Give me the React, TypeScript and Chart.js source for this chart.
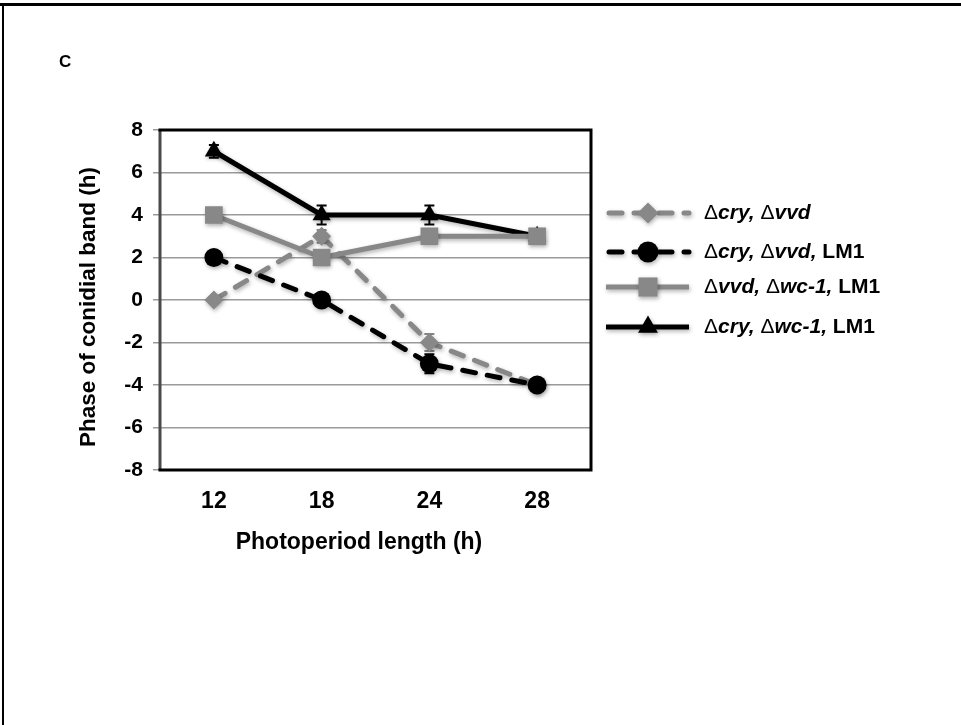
import React, { useEffect, useRef } from 'react';
import { Chart, registerables } from 'chart.js';
Chart.register(...registerables);

// ---- data ----
const categories = ['12', '18', '24', '28'];
const cryVvd = [0, 3, -2, -4];
const cryVvdErr = [0, 0.3, 0.4, 0];
const cryVvdLm1 = [2, 0, -3, -4];
const cryVvdLm1Err = [0, 0, 0.45, 0];
const vvdWc1Lm1 = [4, 2, 3, 3];
const vvdWc1Lm1Err = [0, 0, 0, 0];
const cryWc1Lm1 = [7, 4, 4, 3];
const cryWc1Lm1Err = [0.3, 0.45, 0.45, 0];
const yMin = -8;
const yMax = 8;
const yStep = 2;
const xTitle = 'Photoperiod length (h)';
const yTitle = 'Phase of conidial band (h)';
const panelLabel = 'C';
// legend label parts: [text, style] n = normal, i = bold italic, b = bold
const legendCryVvd: [string, string][] = [['Δ', 'n'], ['cry, ', 'i'], ['Δ', 'n'], ['vvd', 'i']];
const legendCryVvdLm1: [string, string][] = [['Δ', 'n'], ['cry, ', 'i'], ['Δ', 'n'], ['vvd,', 'i'], [' LM1', 'b']];
const legendVvdWc1Lm1: [string, string][] = [['Δ', 'n'], ['vvd, ', 'i'], ['Δ', 'n'], ['wc-1,', 'i'], [' LM1', 'b']];
const legendCryWc1Lm1: [string, string][] = [['Δ', 'n'], ['cry, ', 'i'], ['Δ', 'n'], ['wc-1,', 'i'], [' LM1', 'b']];

const FONT = '"Liberation Sans", Arial, Helvetica, sans-serif';
const GRAY = '#888888';
const BLACK = '#000000';

function drawMarker(ctx: CanvasRenderingContext2D, style: string, x: number, y: number, r: number, color: string) {
  ctx.save();
  ctx.fillStyle = color;
  ctx.beginPath();
  if (style === 'circle') {
    ctx.arc(x, y, r, 0, Math.PI * 2);
  } else if (style === 'rect') {
    const s = Math.SQRT1_2 * r;
    ctx.rect(x - s, y - s, 2 * s, 2 * s);
  } else if (style === 'rectRot') {
    ctx.moveTo(x, y - r);
    ctx.lineTo(x + r, y);
    ctx.lineTo(x, y + r);
    ctx.lineTo(x - r, y);
    ctx.closePath();
  } else if (style === 'triangle') {
    ctx.moveTo(x, y - r);
    ctx.lineTo(x + Math.sin((2 * Math.PI) / 3) * r, y + r * 0.5);
    ctx.lineTo(x - Math.sin((2 * Math.PI) / 3) * r, y + r * 0.5);
    ctx.closePath();
  }
  ctx.fill();
  ctx.restore();
}

export default function App() {
  const ref = useRef<HTMLCanvasElement>(null);
  useEffect(() => {
    document.body.style.margin = '0';
    const canvas = ref.current!;

    const series = [
      { label: 'Δcry, Δvvd', data: cryVvd, err: cryVvdErr, color: GRAY, dash: [13, 12], style: 'rectRot', r: 9.5, order: 3, legend: legendCryVvd },
      { label: 'Δcry, Δvvd, LM1', data: cryVvdLm1, err: cryVvdLm1Err, color: BLACK, dash: [13, 12], style: 'circle', r: 9.5, order: 2, legend: legendCryVvdLm1 },
      { label: 'Δvvd, Δwc-1, LM1', data: vvdWc1Lm1, err: vvdWc1Lm1Err, color: GRAY, dash: [], style: 'rect', r: 12.5, order: 0, legend: legendVvdWc1Lm1 },
      { label: 'Δcry, Δwc-1, LM1', data: cryWc1Lm1, err: cryWc1Lm1Err, color: BLACK, dash: [], style: 'triangle', r: 10.5, order: 1, legend: legendCryWc1Lm1 },
    ];

    const datasets = series.map((s) => ({
      label: s.label,
      data: s.data,
      borderColor: s.color,
      backgroundColor: s.color,
      borderWidth: 5,
      borderDash: s.dash,
      borderCapStyle: 'round' as const,
      borderJoinStyle: 'round' as const,
      pointStyle: s.style as any,
      pointRadius: s.r,
      pointHoverRadius: s.r,
      pointBackgroundColor: s.color,
      pointBorderColor: s.color,
      pointBorderWidth: 0,
      tension: 0,
      fill: false,
      order: s.order,
    }));

    const decor = {
      id: 'decor',
      beforeDatasetsDraw(chart: any) {
        const ctx: CanvasRenderingContext2D = chart.ctx;
        const { left, right, top, bottom } = chart.chartArea;
        // frame
        ctx.save();
        ctx.lineWidth = 3;
        ctx.strokeStyle = '#4a4a4a';
        ctx.beginPath();
        ctx.moveTo(left, top);
        ctx.lineTo(left, bottom);
        ctx.stroke();
        ctx.strokeStyle = BLACK;
        ctx.beginPath();
        ctx.moveTo(left - 1.5, top);
        ctx.lineTo(right, top);
        ctx.lineTo(right, bottom);
        ctx.lineTo(left - 1.5, bottom);
        ctx.stroke();
        ctx.restore();
        // error bars
        const xs = chart.scales.x;
        const ys = chart.scales.y;
        ctx.save();
        ctx.lineWidth = 2;
        series.forEach((s) => {
          ctx.strokeStyle = s.color;
          s.data.forEach((v, i) => {
            const e = s.err[i];
            if (!e) return;
            const x = xs.getPixelForValue(i);
            const y1 = ys.getPixelForValue(v + e);
            const y2 = ys.getPixelForValue(v - e);
            ctx.beginPath();
            ctx.moveTo(x, y1);
            ctx.lineTo(x, y2);
            ctx.moveTo(x - 5, y1);
            ctx.lineTo(x + 5, y1);
            ctx.moveTo(x - 5, y2);
            ctx.lineTo(x + 5, y2);
            ctx.stroke();
          });
        });
        ctx.restore();
        // shadow for datasets
        ctx.save();
        ctx.shadowColor = 'rgba(0,0,0,0.3)';
        ctx.shadowBlur = 4;
        ctx.shadowOffsetX = 1;
        ctx.shadowOffsetY = 2;
      },
      afterDatasetsDraw(chart: any) {
        chart.ctx.restore();
      },
      afterDraw(chart: any) {
        const ctx: CanvasRenderingContext2D = chart.ctx;
        ctx.save();
        // page border
        ctx.fillStyle = BLACK;
        ctx.fillRect(0, 3, chart.width, 3);
        ctx.fillRect(2, 3, 2, chart.height - 3);
        // panel label
        ctx.font = `bold 17px ${FONT}`;
        ctx.textAlign = 'left';
        ctx.textBaseline = 'middle';
        ctx.fillText(panelLabel, 59, 62);
        // axis titles
        ctx.font = `bold 23px ${FONT}`;
        ctx.textAlign = 'center';
        ctx.fillText(xTitle, 359, 543);
        ctx.save();
        ctx.translate(89, 307);
        ctx.rotate(-Math.PI / 2);
        ctx.font = `bold 22.5px ${FONT}`;
        ctx.fillText(yTitle, 0, 0);
        ctx.restore();
        // legend
        const rows = [213, 252, 287, 327];
        series.forEach((s, k) => {
          const y = rows[k];
          ctx.save();
          ctx.shadowColor = 'rgba(0,0,0,0.3)';
          ctx.shadowBlur = 4;
          ctx.shadowOffsetX = 1;
          ctx.shadowOffsetY = 2;
          ctx.strokeStyle = s.color;
          ctx.lineWidth = 5;
          ctx.lineCap = s.dash.length ? 'round' : 'butt';
          ctx.setLineDash(s.dash);
          ctx.beginPath();
          ctx.moveTo(s.dash.length ? 609 : 606, y);
          ctx.lineTo(689, y);
          ctx.stroke();
          ctx.setLineDash([]);
          drawMarker(ctx, s.style, 648, y, s.r + 1, s.color);
          ctx.restore();
          let x = 704;
          ctx.textAlign = 'left';
          ctx.textBaseline = 'middle';
          ctx.fillStyle = BLACK;
          s.legend.forEach(([t, st]) => {
            ctx.font = st === 'n' ? `21px ${FONT}` : st === 'i' ? `italic bold 21px ${FONT}` : `bold 21px ${FONT}`;
            ctx.fillText(t, x, y);
            x += ctx.measureText(t).width;
          });
        });
        ctx.restore();
      },
    };

    const chart = new Chart(canvas, {
      type: 'line',
      data: { labels: categories, datasets },
      options: {
        animation: false,
        responsive: false,
        layout: { padding: { left: 0, top: 130, right: 370, bottom: 0 } },
        plugins: { legend: { display: false }, tooltip: { enabled: false }, title: { display: false } },
        scales: {
          x: {
            type: 'category',
            offset: true,
            grid: { display: false, drawTicks: false },
            border: { display: false },
            ticks: { color: BLACK, font: { family: FONT, size: 23, weight: 'bold' }, padding: 18, maxRotation: 0 },
            afterFit: (s: any) => { s.height = 255; },
          },
          y: {
            min: yMin,
            max: yMax,
            grid: { color: '#9a9a9a', lineWidth: 1.5, tickLength: 7, drawTicks: true },
            border: { display: false },
            ticks: { stepSize: yStep, color: BLACK, font: { family: FONT, size: 21, weight: 'bold' }, padding: 10 },
            afterFit: (s: any) => { s.width = 160; },
          },
        },
      },
      plugins: [decor],
    });
    return () => chart.destroy();
  }, []);
  return (
    <div style={{ width: 961, height: 725, overflow: 'hidden' }}>
      <canvas ref={ref} width={961} height={725} style={{ display: 'block' }} />
    </div>
  );
}
